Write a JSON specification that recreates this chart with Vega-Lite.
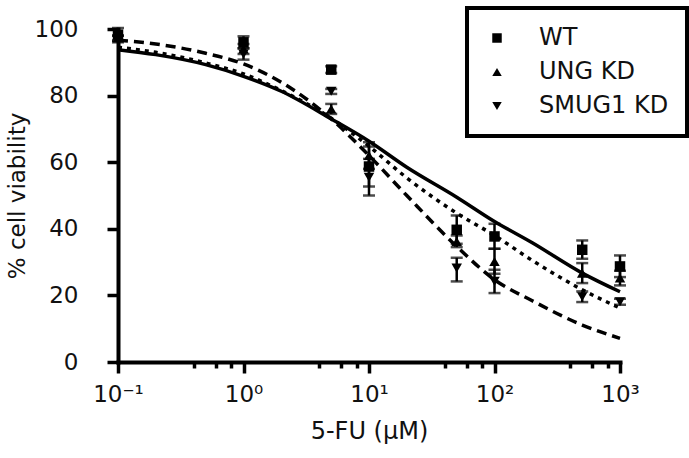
{
  "$schema": "https://vega.github.io/schema/vega-lite/v6.json",
  "width": 502,
  "height": 333,
  "autosize": {"type": "none"},
  "padding": {"left": 118, "top": 29, "right": 69, "bottom": 96},
  "background": "white",
  "config": {"view": {"stroke": null}, "font": "DejaVu Sans", "legend": {"strokeWidth": 4}},
  "datasets": {
    "wt": [
      {"conc": 0.1, "v": 93.8}, {"conc": 0.2, "v": 92.3}, {"conc": 0.5, "v": 89.3}, {"conc": 1, "v": 85.8},
      {"conc": 2, "v": 81.3}, {"conc": 5, "v": 73}, {"conc": 10, "v": 66.3}, {"conc": 20, "v": 58.5},
      {"conc": 50, "v": 49.5}, {"conc": 100, "v": 42.2}, {"conc": 200, "v": 35.8}, {"conc": 500, "v": 26.7},
      {"conc": 1000, "v": 21.1}
    ],
    "ung": [
      {"conc": 0.1, "v": 94.5}, {"conc": 0.2, "v": 93}, {"conc": 0.5, "v": 89.8}, {"conc": 1, "v": 86.5},
      {"conc": 2, "v": 81.5}, {"conc": 5, "v": 73.2}, {"conc": 10, "v": 64.8}, {"conc": 20, "v": 55.3},
      {"conc": 50, "v": 44.7}, {"conc": 100, "v": 38}, {"conc": 200, "v": 30.5}, {"conc": 500, "v": 21.7},
      {"conc": 1000, "v": 16.2}
    ],
    "smug": [
      {"conc": 0.1, "v": 96.6}, {"conc": 0.2, "v": 95.5}, {"conc": 0.5, "v": 92.7}, {"conc": 1, "v": 89.5},
      {"conc": 2, "v": 84}, {"conc": 5, "v": 73}, {"conc": 10, "v": 62}, {"conc": 20, "v": 50},
      {"conc": 50, "v": 34.7}, {"conc": 100, "v": 24.7}, {"conc": 200, "v": 18.4}, {"conc": 500, "v": 11.1},
      {"conc": 1000, "v": 7.1}
    ],
    "pts": [
      {"series": "WT", "conc": 0.1, "mean": 98.3, "lo": 96.5, "hi": 100.3},
      {"series": "WT", "conc": 1, "mean": 96, "lo": 94.2, "hi": 97.8},
      {"series": "WT", "conc": 5, "mean": 87.8, "lo": 86.8, "hi": 88.8},
      {"series": "WT", "conc": 10, "mean": 58.7, "lo": 52.7, "hi": 64.7},
      {"series": "WT", "conc": 50, "mean": 39.7, "lo": 35.5, "hi": 44},
      {"series": "WT", "conc": 100, "mean": 37.7, "lo": 34, "hi": 41.5},
      {"series": "WT", "conc": 500, "mean": 33.7, "lo": 31, "hi": 36.5},
      {"series": "WT", "conc": 1000, "mean": 28.7, "lo": 25.5, "hi": 32},
      {"series": "UNG KD", "conc": 0.1, "mean": 97.3, "lo": 96.5, "hi": 98},
      {"series": "UNG KD", "conc": 1, "mean": 94, "lo": 92.5, "hi": 95.5},
      {"series": "UNG KD", "conc": 5, "mean": 76, "lo": 74.5, "hi": 77.5},
      {"series": "UNG KD", "conc": 10, "mean": 62, "lo": 58, "hi": 66},
      {"series": "UNG KD", "conc": 50, "mean": 36.2, "lo": 34.5, "hi": 38},
      {"series": "UNG KD", "conc": 100, "mean": 30.2, "lo": 26.5, "hi": 34},
      {"series": "UNG KD", "conc": 500, "mean": 26.7, "lo": 23.7, "hi": 29.7},
      {"series": "UNG KD", "conc": 1000, "mean": 25.2, "lo": 23, "hi": 27.4},
      {"series": "SMUG1 KD", "conc": 0.1, "mean": 97, "lo": 96, "hi": 98},
      {"series": "SMUG1 KD", "conc": 1, "mean": 92.5, "lo": 90.8, "hi": 94.2},
      {"series": "SMUG1 KD", "conc": 5, "mean": 81.3, "lo": 80.5, "hi": 82},
      {"series": "SMUG1 KD", "conc": 10, "mean": 55.5, "lo": 50, "hi": 61},
      {"series": "SMUG1 KD", "conc": 50, "mean": 28.2, "lo": 24.2, "hi": 31.3},
      {"series": "SMUG1 KD", "conc": 100, "mean": 24.2, "lo": 20.7, "hi": 27.7},
      {"series": "SMUG1 KD", "conc": 500, "mean": 19.6, "lo": 18, "hi": 21.2},
      {"series": "SMUG1 KD", "conc": 1000, "mean": 18.1, "lo": 17.2, "hi": 19}
    ]
  },
  "layer": [
    {
      "data": {"name": "wt"},
      "mark": {"type": "line", "interpolate": "monotone", "strokeWidth": 3.5, "color": "black"},
      "encoding": {
        "x": {
          "field": "conc", "type": "quantitative",
          "scale": {"type": "log", "domain": [0.1, 1000], "nice": false},
          "axis": {
            "values": [0.1, 0.4, 0.6, 0.8, 1, 4, 6, 8, 10, 40, 60, 80, 100, 400, 600, 800, 1000],
            "labelExpr": "datum.value == 0.1 ? '10⁻¹' : datum.value == 1 ? '10⁰' : datum.value == 10 ? '10¹' : datum.value == 100 ? '10²' : datum.value == 1000 ? '10³' : ''",
            "tickSize": {"condition": {"test": "abs(log(datum.value)/log(10) - round(log(datum.value)/log(10))) < 0.01", "value": 11}, "value": 6},
            "tickWidth": 3.5, "tickColor": "black",
            "domainColor": "black", "domainWidth": 4, "domainCap": "square",
            "labelFont": "DejaVu Sans", "labelFontSize": 23, "labelColor": "#111",
            "labelPadding": 10, "labelOverlap": false, "labelFlush": false,
            "grid": false,
            "title": "5-FU (μM)", "titleFont": "DejaVu Sans", "titleFontSize": 24, "titleFontWeight": "normal",
            "titleColor": "#111", "titlePadding": 13
          }
        },
        "y": {
          "field": "v", "type": "quantitative",
          "scale": {"domain": [0, 100], "nice": false},
          "axis": {
            "values": [0, 20, 40, 60, 80, 100],
            "tickSize": 11, "tickWidth": 3.5, "tickColor": "black",
            "domainColor": "black", "domainWidth": 4, "domainCap": "square",
            "labelFont": "DejaVu Sans", "labelFontSize": 23, "labelColor": "#111",
            "labelPadding": 29, "grid": false,
            "title": "% cell viability", "titleFont": "DejaVu Sans", "titleFontSize": 23, "titleFontWeight": "normal",
            "titleColor": "#111", "titlePadding": 5
          }
        }
      }
    },
    {
      "data": {"name": "ung"},
      "mark": {"type": "line", "interpolate": "monotone", "strokeWidth": 3.5, "color": "black", "strokeDash": [4, 5]},
      "encoding": {
        "x": {"field": "conc", "type": "quantitative"},
        "y": {"field": "v", "type": "quantitative"}
      }
    },
    {
      "data": {"name": "smug"},
      "mark": {"type": "line", "interpolate": "monotone", "strokeWidth": 3.5, "color": "black", "strokeDash": [10, 6]},
      "encoding": {
        "x": {"field": "conc", "type": "quantitative"},
        "y": {"field": "v", "type": "quantitative"}
      }
    },
    {
      "data": {"name": "pts"},
      "mark": {"type": "rule", "strokeWidth": 2.5, "color": "black"},
      "encoding": {
        "x": {"field": "conc", "type": "quantitative"},
        "y": {"field": "lo", "type": "quantitative"},
        "y2": {"field": "hi"}
      }
    },
    {
      "data": {"name": "pts"},
      "mark": {"type": "tick", "orient": "horizontal", "size": 12, "thickness": 2.5, "color": "black"},
      "encoding": {
        "x": {"field": "conc", "type": "quantitative"},
        "y": {"field": "lo", "type": "quantitative"}
      }
    },
    {
      "data": {"name": "pts"},
      "mark": {"type": "tick", "orient": "horizontal", "size": 12, "thickness": 2.5, "color": "black"},
      "encoding": {
        "x": {"field": "conc", "type": "quantitative"},
        "y": {"field": "hi", "type": "quantitative"}
      }
    },
    {
      "data": {"name": "pts"},
      "mark": {"type": "point", "filled": true, "opacity": 1, "color": "black", "size": 110},
      "encoding": {
        "x": {"field": "conc", "type": "quantitative"},
        "y": {"field": "mean", "type": "quantitative"},
        "shape": {
          "field": "series", "type": "nominal",
          "scale": {"domain": ["WT", "UNG KD", "SMUG1 KD"], "range": ["square", "triangle-up", "triangle-down"]},
          "legend": {
            "orient": "none", "legendX": 349, "legendY": -21, "title": null,
            "strokeColor": "black", "fillColor": "white", "padding": 18,
            "symbolSize": 90, "symbolFillColor": "black", "symbolStrokeColor": "black",
            "labelFont": "DejaVu Sans", "labelFontSize": 24, "labelColor": "#111",
            "labelOffset": 30, "rowPadding": 10
          }
        }
      }
    }
  ]
}
